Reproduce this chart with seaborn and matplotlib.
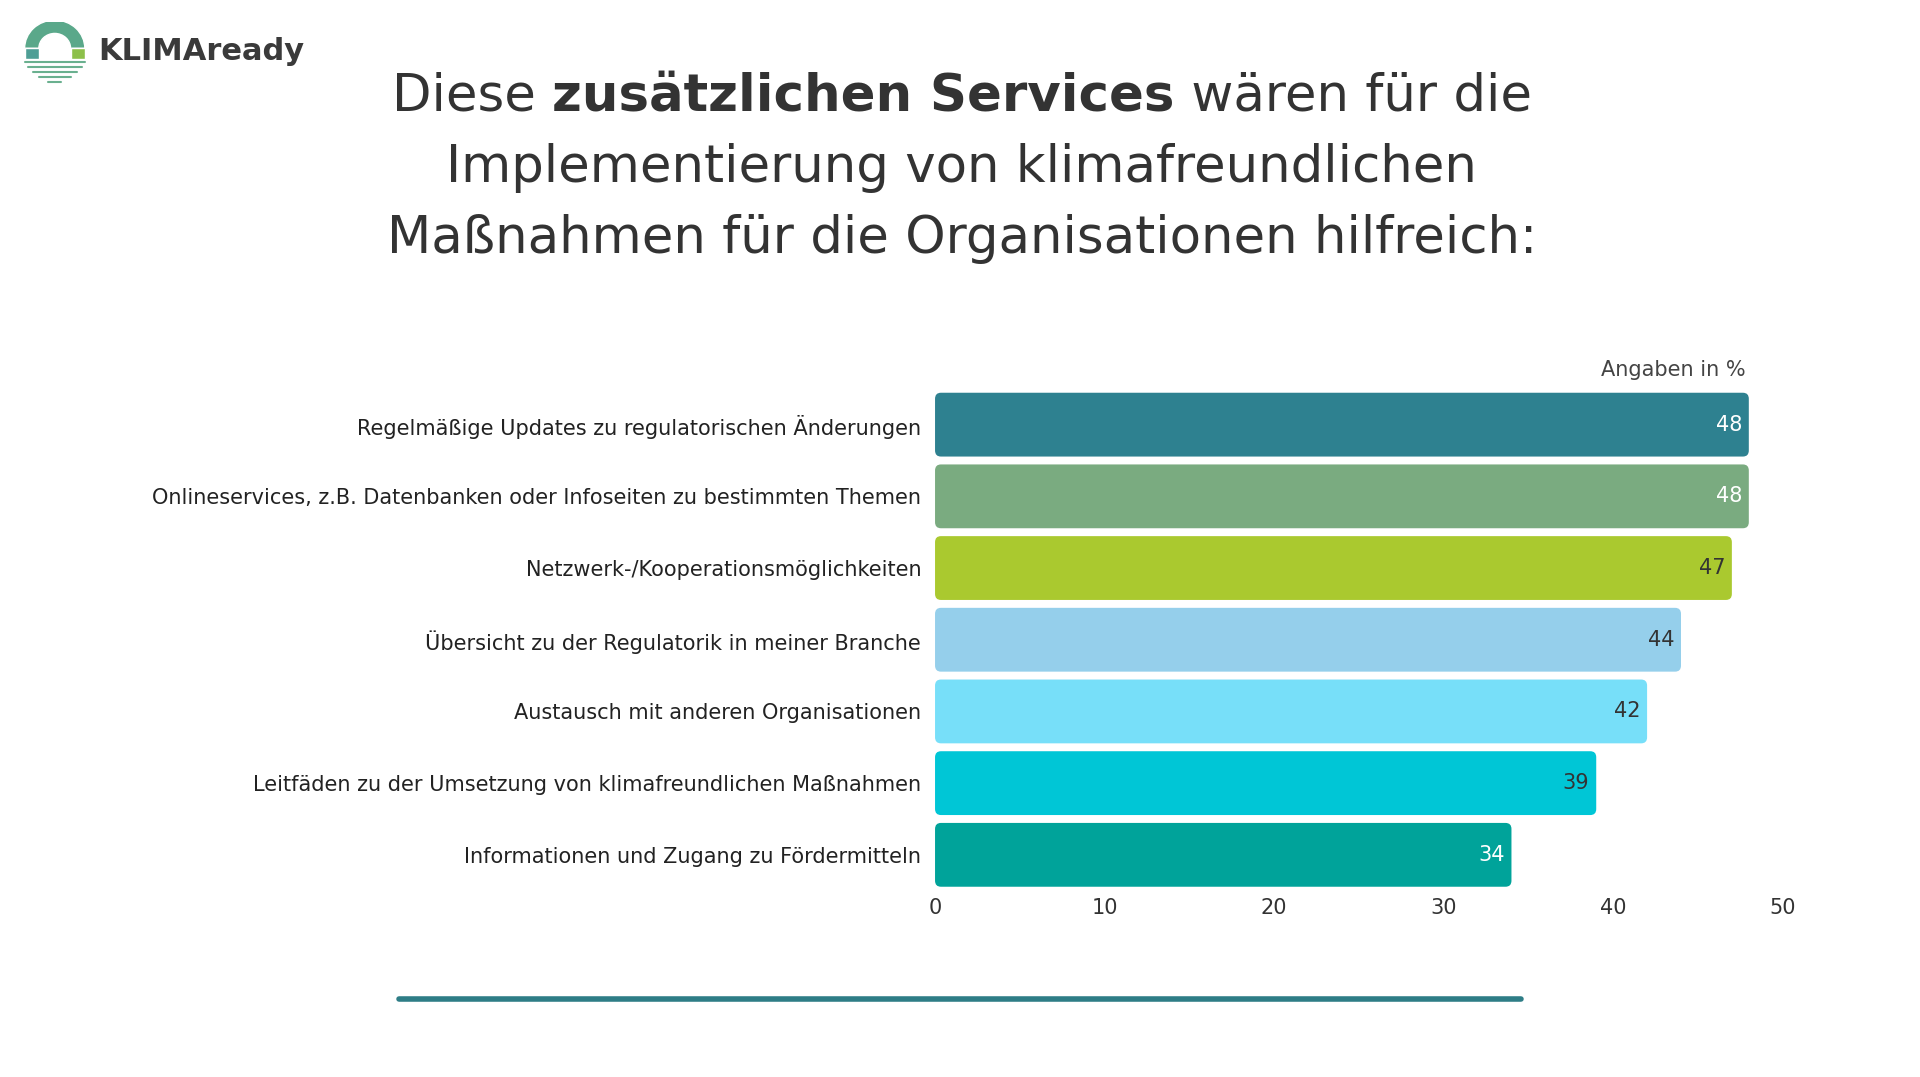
import matplotlib
matplotlib.use("Agg")
import matplotlib.pyplot as plt
import seaborn as sns
import pandas as pd
from matplotlib.patches import FancyBboxPatch, Wedge, Rectangle

categories = ["Regelmäßige Updates zu regulatorischen Änderungen",
              "Onlineservices, z.B. Datenbanken oder Infoseiten zu bestimmten Themen",
              "Netzwerk-/Kooperationsmöglichkeiten",
              "Übersicht zu der Regulatorik in meiner Branche",
              "Austausch mit anderen Organisationen",
              "Leitfäden zu der Umsetzung von klimafreundlichen Maßnahmen",
              "Informationen und Zugang zu Fördermitteln"]
values = [48, 48, 47, 44, 42, 39, 34]
colors = ["#2e8190", "#7aab80", "#aac92f", "#95cfeb", "#77dff9", "#00c6d6", "#00a39a"]
label_colors = ["white", "white", "#333333", "#333333", "#333333", "#333333", "white"]
ticks = [0, 10, 20, 30, 40, 50]

sns.set_theme(style="white")
plt.rcParams['font.family'] = ['DejaVu Sans']
TXT = "#333333"

fig = plt.figure(figsize=(19.2, 10.77), dpi=100)
ax = fig.add_axes([0.487, 0.173, 0.4415, 0.466])
df = pd.DataFrame({"cat": categories, "val": values})
sns.barplot(data=df, y="cat", x="val", hue="cat", palette=colors, legend=False,
            ax=ax, width=0.89, saturation=1)
old = list(ax.patches)
for p, c in zip(old, colors):
    x0, y0, w, h = p.get_x(), p.get_y(), p.get_width(), p.get_height()
    p.remove()
    ax.add_patch(FancyBboxPatch((x0, y0), w, h, boxstyle="round,pad=0,rounding_size=0.35",
                                mutation_aspect=0.24, fc=c, ec="none"))
for i, (v, lc) in enumerate(zip(values, label_colors)):
    ax.text(v - 0.4, i, str(v), ha="right", va="center", color=lc, fontsize=15)
ax.set_xlim(0, 50)
ax.set_ylim(6.5, -0.5)
ax.set_xticks(ticks)
ax.set_xticklabels([str(t) for t in ticks], fontsize=15, color=TXT)
ax.tick_params(axis="y", labelsize=15, labelcolor="#222222", pad=10, length=0)
ax.tick_params(axis="x", length=0, pad=5)
ax.set_xlabel(""); ax.set_ylabel("")
for s in ax.spines.values():
    s.set_visible(False)
ax.text(47.8, -0.62, "Angaben in %", ha="right", va="bottom", fontsize=15, color="#444444")

fig.canvas.draw()
r = fig.canvas.get_renderer()
parts = [("Diese ", "normal"), ("zusätzlichen Services", "bold"), (" wären für die", "normal")]
ws = []
for t, w in parts:
    tt = fig.text(0, 0, t, fontsize=37, fontweight=w)
    ws.append(tt.get_window_extent(r).width / fig.bbox.width)
    tt.remove()
cx = 0.501
x = cx - sum(ws) / 2
for (t, w), wd in zip(parts, ws):
    fig.text(x, 0.910, t, fontsize=37, fontweight=w, color=TXT, va="center", ha="left")
    x += wd
fig.text(cx, 0.844, "Implementierung von klimafreundlichen", fontsize=37, color=TXT, ha="center", va="center")
fig.text(cx, 0.778, "Maßnahmen für die Organisationen hilfreich:", fontsize=37, color=TXT, ha="center", va="center")

fig.add_artist(plt.Line2D([0.208, 0.792], [0.072, 0.072], color="#2e7d86", lw=4))

lax = fig.add_axes([0.012, 0.922, 0.033, 0.058])
lax.set_xlim(-1, 1); lax.set_ylim(-1.1, 1); lax.axis("off")
lax.add_patch(Wedge((0, 0.1), 0.95, 0, 180, width=0.45, fc="#5aa88a"))
lax.add_patch(Rectangle((-0.95, -0.25), 0.45, 0.35, fc="#4e9e95"))
lax.add_patch(Rectangle((0.5, -0.25), 0.45, 0.35, fc="#8dc04a"))
for y, hw in [(-0.35, 0.95), (-0.52, 0.85), (-0.69, 0.7), (-0.86, 0.5), (-1.02, 0.2)]:
    lax.plot([-hw, hw], [y, y], color="#6ab08f", lw=1.5)
fig.text(0.051, 0.952, "KLIMAready", fontsize=22, fontweight="bold", color="#3a3a3a", va="center")

fig.savefig("out.png", dpi=100, facecolor="white")
